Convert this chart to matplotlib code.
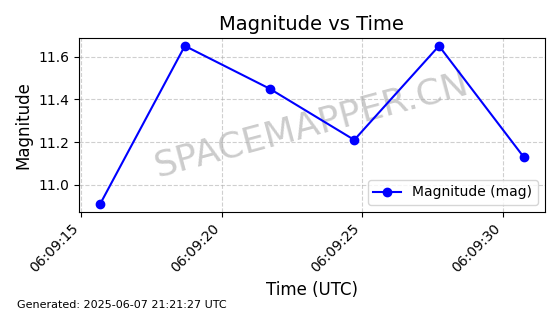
import matplotlib
matplotlib.use("Agg")
import matplotlib.pyplot as plt
import matplotlib.dates as mdates
import pandas as pd

# datos
tiempos = ["2025-06-07 06:09:15.68", "2025-06-07 06:09:18.69", "2025-06-07 06:09:21.70",
           "2025-06-07 06:09:24.71", "2025-06-07 06:09:27.72", "2025-06-07 06:09:30.73"]
magnitudes = [10.91, 11.65, 11.45, 11.21, 11.65, 11.13]
generado = "Generated: 2025-06-07 21:21:27 UTC"

t = pd.to_datetime(tiempos)

fig, ax = plt.subplots(figsize=(5.6, 3.14), dpi=100)
ax.plot(t, magnitudes, marker='o', color='blue', label='Magnitude (mag)', zorder=3)

ax.set_title("Magnitude vs Time", fontsize=14)
ax.set_xlabel("Time (UTC)", fontsize=12)
ax.set_ylabel("Magnitude", fontsize=12)
ax.grid(True, linestyle='--', alpha=0.6)
ax.xaxis.set_major_formatter(mdates.DateFormatter('%H:%M:%S'))
ax.xaxis.set_major_locator(mdates.SecondLocator(bysecond=range(0, 60, 5)))
plt.setp(ax.get_xticklabels(), rotation=45, ha='right')
ax.legend(loc='lower right')

# marca de agua detras de la linea
ax.text(0.5, 0.5, "SPACEMAPPER.CN", transform=ax.transAxes, fontsize=26,
        color='gray', alpha=0.4, ha='center', va='center', rotation=15, zorder=1)

fig.text(0.03, 0.02, generado, fontsize=8)
fig.subplots_adjust(left=0.141, right=0.973, top=0.879, bottom=0.325)
fig.savefig("out.png", dpi=100)
